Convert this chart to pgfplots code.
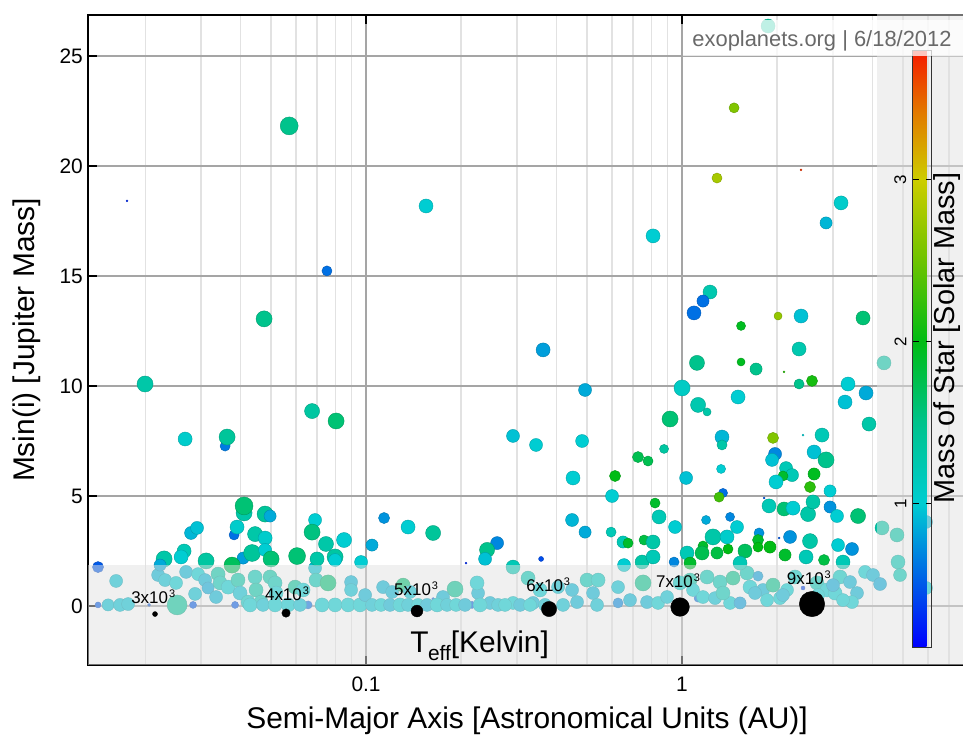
\documentclass[border=0pt]{standalone}
\usepackage{pgfplots}
\usepackage{pgfplotstable}
\pgfplotsset{compat=1.18}
\usepackage{fontspec}
\setmainfont{Liberation Sans}
\definecolor{majgrid}{RGB}{165,165,165}
\definecolor{mingrid}{RGB}{226,226,226}
\definecolor{ovl}{RGB}{225,225,225}
\definecolor{credit}{RGB}{105,105,105}
\pgfplotsset{/pgf/number format/assume math mode=true}

% a = semi-major axis [AU], m = Msin(i) [M_J], M = stellar mass [M_sun], T = Teff [K]
\pgfplotstableread{
a m M T
0.01618 1.14 0.95 5350
0.01526 0.05 0.95 5100
0.01665 0.05 0.95 5350
0.01765 0.09 0.95 5350
0.01418 0.05 0.5 3300
0.02197 1.41 0.9 5350
0.02311 1.18 0.95 5350
0.02504 1.05 1.0 5350
0.02057 0.05 0.5 2400
0.02523 0.05 1.4 7400
0.02694 1.55 0.9 5350
0.02876 0.55 0.95 5350
0.02834 0.05 0.5 3600
0.0294 1.45 1.0 5350
0.03094 1.18 0.9 5350
0.03162 0.82 0.85 5100
0.03401 1.45 1.3 5650
0.03451 1.05 1.2 5650
0.03352 0.41 0.9 5350
0.0366 0.86 1.0 5650
0.03849 0.05 0.5 3600
0.03934 1.18 1.3 5650
0.03993 0.59 0.95 5650
0.04233 0.18 1.1 5650
0.04453 1.32 1.2 5650
0.04486 0.73 1.3 5650
0.04652 0.18 1.2 5650
0.04968 1.32 1.3 5650
0.05152 1.05 1.2 5650
0.0519 0.59 1.0 5650
0.05664 0.05 1.0 5650
0.0596 0.86 1.4 5650
0.06318 0.73 1.0 5650
0.06554 0.05 0.6 3900
0.06896 1.73 0.95 5350
0.06946 1.18 1.2 5650
0.0758 1.05 1.6 6250
0.07978 0.05 1.0 5650
0.08965 1.09 0.9 5350
0.08965 0.73 0.95 5350
0.0877 0.05 1.0 5650
0.0957 0.05 1.0 5650
0.0993 0.5 0.9 5350
0.1132 0.86 0.9 5350
0.1209 0.64 0.9 5350
0.131 0.95 1.6 5650
0.1378 0.64 0.95 5350
0.163 0.32 0.5 2400
0.1912 0.77 1.45 6250
0.1752 0.41 0.9 5350
0.2262 0.59 0.9 5350
0.2245 1.05 1.0 5650
0.2165 0.05 0.5 3600
0.3256 1.27 1.2 5650
0.3553 0.73 1.0 5650
0.4051 0.86 0.95 5350
0.4487 0.73 0.9 5350
0.5004 1.18 1.2 5650
0.5423 1.18 1.1 5650
0.5228 0.59 0.9 5350
0.6272 0.86 0.95 5350
0.7525 1.05 1.5 6250
0.7749 0.18 0.9 5350
0.4653 0.18 0.9 5350
0.5383 0.05 0.95 5350
0.4202 0.05 0.95 5350
0.2468 0.14 0.9 5350
0.2918 0.14 1.0 5350
0.3377 0.14 0.9 5350
0.6845 0.27 0.9 5350
0.8396 0.14 1.0 5350
0.8964 0.41 0.95 5350
0.9855 1.05 1.1 5650
0.6272 0.14 0.7 4500
1.124 0.36 0.6 3900
1.06 1.18 1.3 5650
1.2 1.32 1.2 5650
1.319 1.09 1.2 5650
1.45 1.27 1.5 5650
1.606 1.5 1.2 5650
1.74 1.36 0.8 4500
1.641 0.86 1.0 5650
1.805 0.73 0.9 5350
1.941 0.95 1.5 5650
2.149 0.73 1.0 5350
2.278 1.32 1.1 5650
2.042 0.36 1.0 5350
2.415 0.82 0.4 2700
2.674 1.05 1.2 5650
2.876 0.73 1.0 5650
3.05 0.59 1.0 5650
3.162 1.32 1.1 5650
3.401 1.09 0.9 5350
3.579 0.59 0.9 5350
3.451 0.18 1.0 5350
3.795 1.55 1.0 5350
4.022 1.41 0.9 5350
1.083 0.73 1.0 5350
1.165 0.41 1.0 5350
1.272 0.36 0.95 5350
1.419 0.14 1.0 5350
1.526 0.14 0.8 5100
1.348 0.59 1.2 5650
1.702 0.59 0.9 5350
1.858 0.27 1.0 5350
2.087 0.5 0.9 5350
2.694 0.5 1.0 5350
3.005 0.95 0.85 5350
3.232 0.27 1.0 5350
0.04295 0.05 1.0 5650
0.04721 0.05 0.95 5350
0.05152 0.05 1.0 5650
0.0618 0.05 0.95 5350
0.07258 0.05 1.0 5650
0.1044 0.05 0.95 5350
0.1115 0.05 1.0 5350
0.1191 0.05 0.9 5350
0.1281 0.05 1.0 5650
0.1358 0.05 0.95 5350
0.1461 0.05 1.0 5350
0.156 0.05 0.9 5350
0.1678 0.05 1.0 5650
0.1804 0.05 0.95 5350
0.1927 0.05 1.0 5350
0.2057 0.05 0.9 5350
0.2295 0.05 1.0 5650
0.2617 0.05 0.95 5350
0.2754 0.05 1.0 5350
0.3073 0.05 0.9 5350
0.3304 0.05 1.0 5350
0.3685 0.05 0.95 5350
0.0571 21.82 1.5 6800
0.01752 18.41 0.3 2100
0.1548 18.18 1.0 5650
0.0752 15.23 0.6 4500
0.04755 13.05 1.5 6250
1.872 26.36 1.4 5650
1.461 22.64 2.6 4500
1.290 19.45 2.8 4500
2.380 19.82 3.7 2100
3.186 18.32 1.05 5650
2.856 17.41 0.9 5100
0.8095 16.82 1.0 5650
1.226 14.27 1.25 5650
1.165 13.86 0.6 5100
1.091 13.32 0.6 5650
1.537 12.73 1.95 4200
2.013 13.18 2.7 3900
2.380 13.18 0.95 5650
3.740 13.09 1.6 5650
2.346 11.68 1.25 5650
0.3633 11.64 0.8 5650
1.115 11.05 1.5 5950
1.537 11.09 1.95 3900
1.715 10.77 1.5 5100
2.103 10.64 2.2 2100
4.357 11.05 1.3 5650
2.346 10.09 1.5 4500
2.578 10.23 2.1 4800
3.352 10.09 1.0 5650
3.280 9.27 0.95 5650
3.823 9.68 0.85 5650
3.907 8.27 1.3 5650
1.0 9.91 1.1 6250
1.124 9.14 1.25 5950
1.200 8.82 1.3 3900
0.9164 8.5 1.6 6250
1.504 9.5 1.0 5650
0.4932 9.82 0.85 5350
1.941 7.64 2.6 4800
2.415 7.77 1.0 2100
2.773 7.77 1.2 5650
1.338 7.68 0.9 5650
1.338 7.32 1.3 4500
2.617 7.0 0.95 5650
2.856 6.64 1.5 6250
1.970 6.91 0.7 5350
1.927 6.64 0.95 5350
1.329 6.23 1.0 4200
2.134 6.27 1.2 5350
2.229 5.95 1.2 5350
2.617 6.0 1.95 5100
2.087 5.91 1.9 4500
1.984 5.64 1.0 5650
1.030 5.82 0.95 5350
2.541 5.41 2.2 4800
0.2918 7.73 0.95 5350
0.3451 7.32 1.0 5350
0.4827 7.5 1.0 5350
0.7256 6.77 1.75 4800
0.7805 6.59 1.75 4500
0.8772 7.14 1.35 4200
0.4518 5.82 1.0 5650
0.6137 5.91 2.0 4800
0.6004 5.0 1.0 5350
0.8214 4.68 1.9 4500
0.8456 4.05 1.2 5650
0.9503 3.59 1.0 5350
0.4487 3.91 0.9 5350
0.4932 3.36 0.85 5100
0.5961 3.36 1.2 4500
0.6506 2.91 1.2 5100
0.6747 2.86 1.9 4500
0.758 3.0 1.8 4500
0.8095 2.91 1.3 5650
1.191 3.91 0.85 4200
1.419 4.05 0.7 4200
1.493 3.59 1.0 5350
1.348 5.14 0.6 4200
1.310 4.95 2.3 4500
1.885 4.55 1.2 5650
2.103 4.41 1.6 5650
2.245 4.45 1.0 5650
2.505 4.18 1.3 5950
2.597 4.73 1.3 5650
2.940 5.23 1.0 5100
2.940 4.5 0.75 5100
3.094 4.09 1.0 5350
3.606 4.09 1.6 5950
1.818 4.91 0.5 2100
0.2918 1.77 1.2 5650
0.6553 1.86 1.0 5350
0.9434 2.0 0.7 4500
1.253 3.14 1.3 6250
1.388 3.14 1.05 5650
1.753 3.32 0.75 4500
1.740 3.0 1.9 4800
1.740 2.68 2.0 4500
2.197 3.14 0.75 5350
2.541 2.95 1.3 5950
3.117 2.77 1.0 5350
3.451 2.59 0.75 5350
2.028 3.09 0.5 2100
1.165 2.73 1.9 4500
1.157 2.41 1.75 5650
1.290 2.41 1.8 5100
1.398 2.59 2.0 4500
1.582 2.5 1.7 5650
1.898 2.68 2.0 5100
2.118 2.32 1.9 5100
2.469 2.23 1.2 5650
2.814 2.09 1.8 4800
3.232 2.0 1.2 5650
1.037 2.41 1.2 5650
1.526 1.95 1.2 5650
1.060 1.95 1.9 5100
4.295 3.55 1.3 5650
4.790 3.23 1.3 5650
5.918 3.82 0.9 5350
4.825 2.0 1.2 5650
4.897 1.41 1.2 5350
4.233 1.0 0.85 5350
5.918 0.82 1.0 5350
0.114 4.0 0.75 4800
0.1358 3.59 1.0 5650
0.163 3.32 1.4 5950
0.2598 2.86 0.7 5350
0.2415 2.55 1.5 5950
0.2380 2.14 0.95 5350
0.2072 1.95 0.3 2100
0.358 2.14 0.45 3000
0.7475 2.0 1.3 5650
0.8095 2.23 1.2 5650
0.01998 10.09 1.3 6250
0.02675 7.59 1.05 5650
0.0358 7.27 0.65 4500
0.03632 7.68 1.4 6250
0.06747 8.86 1.35 5950
0.08037 8.41 1.6 6250
0.0411 4.23 1.3 6250
0.0411 4.55 1.6 6800
0.04791 4.18 1.4 6250
0.04968 4.09 0.85 5100
0.06896 3.91 1.0 5350
0.02793 3.32 0.9 5350
0.02918 3.55 0.95 5350
0.03822 3.23 0.6 4500
0.03906 3.59 1.05 5650
0.04453 3.27 1.3 5950
0.04791 3.09 1.05 5650
0.06747 3.36 1.55 6250
0.07467 2.82 1.3 5950
0.08517 3.0 1.0 5950
0.1044 2.77 0.85 5100
0.02655 2.5 1.2 5650
0.02597 2.23 1.0 5650
0.02295 2.14 1.3 6250
0.03116 2.05 1.35 6250
0.04082 2.18 0.8 5100
0.04357 2.41 1.4 6500
0.04791 2.55 1.0 5350
0.05005 2.14 1.6 6250
0.03767 1.86 1.7 6250
0.06048 2.27 1.6 6500
0.06997 2.14 1.3 5650
0.07978 2.23 1.35 6250
0.07978 2.09 1.0 5350
0.09643 2.0 1.0 5350
0.01418 1.77 0.5 4800
0.02229 1.86 0.85 5100
}\planets

% Teff size key
\pgfplotstableread{
a m M T
0.02148 -0.364 1 3000
0.0558 -0.32 1 4000
0.1449 -0.227 1 5000
0.3794 -0.136 1 6000
0.9856 -0.045 1 7000
2.578 0.09 1 9000
}\teffkey

\begin{document}
\begin{tikzpicture}
\begin{axis}[
  set layers,
  clip marker paths=true,
  at={(0,0)}, anchor=south west,
  scale only axis, width=878bp, height=650bp,
  xmode=log, log basis x=10,
  xmin=0.01318, xmax=7.92, ymin=-2.68, ymax=26.86,
  xtick={0.1,1}, xticklabels={0.1,1},
  minor xtick={0.02,0.03,0.04,0.05,0.06,0.07,0.08,0.09,0.2,0.3,0.4,0.5,0.6,0.7,0.8,0.9,2,3,4,5,6,7},
  ytick={0,5,10,15,20,25},
  ytick pos=left,
  xmajorgrids, xminorgrids, ymajorgrids,
  major grid style={draw=majgrid, line width=1.3bp},
  minor grid style={draw=mingrid, line width=1.4bp},
  axis line style={black, line width=1.8bp},
  tick align=inside,
  major tick length=9bp, minor tick length=0pt,
  major tick style={black, line width=1.4bp},
  tick label style={font=\fontsize{21}{25}\selectfont},
  yticklabel style={inner xsep=5bp},
  xticklabel style={inner sep=0pt, yshift=-12bp},
  xlabel={Semi-Major Axis [Astronomical Units (AU)]},
  ylabel={Msin(i) [Jupiter Mass]},
  label style={font=\fontsize{30}{36}\selectfont},
  xlabel style={at={([yshift=-63bp]axis description cs:0.5,0)}, anchor=base},
  ylabel style={at={([xshift=-53.5bp]axis description cs:0,0.5)}, anchor=base},
  colormap={exo}{rgb255(0cm)=(0,0,255) rgb255(4.35cm)=(0,100,230) rgb255(8.85cm)=(0,205,210) rgb255(13.85cm)=(0,195,140) rgb255(18.85cm)=(0,188,20) rgb255(23.85cm)=(110,195,0) rgb255(28.85cm)=(205,205,0) rgb255(32.85cm)=(225,125,0) rgb255(36.85cm)=(245,25,0)},
  point meta min=0.115, point meta max=3.8,
  colorbar,
  colorbar style={
    at={(816bp,18bp)}, anchor=south west,
    scale only axis, width=19bp, height=597bp,
    ytick={1,2,3},
    yticklabel pos=left,
    ytick pos=both,
    tick align=inside,
    major tick length=6bp,
    major tick style={black, line width=1.2bp},
    axis line style={draw=black!80, line width=0.8bp},
    yticklabel style={font=\fontsize{17}{20}\selectfont, rotate=90, anchor=south, inner sep=6bp},
  },
]
\addplot[scatter, only marks, mark=*, point meta=\thisrow{M},
  visualization depends on={0.0017*\thisrow{T}-2.6 \as \rad},
  scatter/@pre marker code/.append style={/tikz/mark size=\rad bp}]
  table[x=a, y=m] {\planets};

% translucent panels over the data (T_eff key band and colour-bar backdrop)
\addplot[draw=none, fill=ovl, fill opacity=0.5, forget plot]
  coordinates {(0.01,-3) (4.141,-3) (4.141,1.864) (0.01,1.864)} -- cycle;
\addplot[draw=none, fill=ovl, fill opacity=0.5, forget plot]
  coordinates {(4.141,-3) (9,-3) (9,28) (4.141,28)} -- cycle;

\addplot[scatter, only marks, mark=*, point meta=\thisrow{M},
  scatter/use mapped color={draw=black, fill=black},
  visualization depends on={0.0017*\thisrow{T}-2.6 \as \rad},
  scatter/@pre marker code/.append style={/tikz/mark size=\rad bp}]
  table[x=a, y=m] {\teffkey};

\begin{pgfonlayer}{axis foreground}
\node[anchor=base, font=\fontsize{17}{20}\selectfont] at (axis cs:0.0212,0.136) {3x10\kern1bp\raisebox{6bp}{\fontsize{11}{11}\selectfont 3}};
\node[anchor=base, font=\fontsize{17}{20}\selectfont] at (axis cs:0.0562,0.27) {4x10\kern1bp\raisebox{6bp}{\fontsize{11}{11}\selectfont 3}};
\node[anchor=base, font=\fontsize{17}{20}\selectfont] at (axis cs:0.144,0.5) {5x10\kern1bp\raisebox{6bp}{\fontsize{11}{11}\selectfont 3}};
\node[anchor=base, font=\fontsize{17}{20}\selectfont] at (axis cs:0.377,0.64) {6x10\kern1bp\raisebox{6bp}{\fontsize{11}{11}\selectfont 3}};
\node[anchor=base, font=\fontsize{17}{20}\selectfont] at (axis cs:0.971,0.82) {7x10\kern1bp\raisebox{6bp}{\fontsize{11}{11}\selectfont 3}};
\node[anchor=base, font=\fontsize{17}{20}\selectfont] at (axis cs:2.52,1.0) {9x10\kern1bp\raisebox{6bp}{\fontsize{11}{11}\selectfont 3}};
\node[anchor=base, font=\fontsize{30}{36}\selectfont] at (axis cs:0.2287,-2.09) {T\kern-0.5bp\raisebox{-8bp}{\fontsize{21}{21}\selectfont eff}[Kelvin]};
\end{pgfonlayer}
\end{axis}
\fill[white, opacity=0.75] (595bp,609bp) rectangle (880bp,645bp);
\node[text=credit, font=\fontsize{22}{26}\selectfont, anchor=base] at (734bp,618bp) {exoplanets.org | 6/18/2012};
\node[rotate=90, anchor=base, font=\fontsize{29}{34}\selectfont] at (866.5bp,327bp) {Mass of Star [Solar Mass]};
\pgfresetboundingbox
\path[use as bounding box] (-88bp,-71bp) rectangle (875bp,665bp);
\end{tikzpicture}
\end{document}
